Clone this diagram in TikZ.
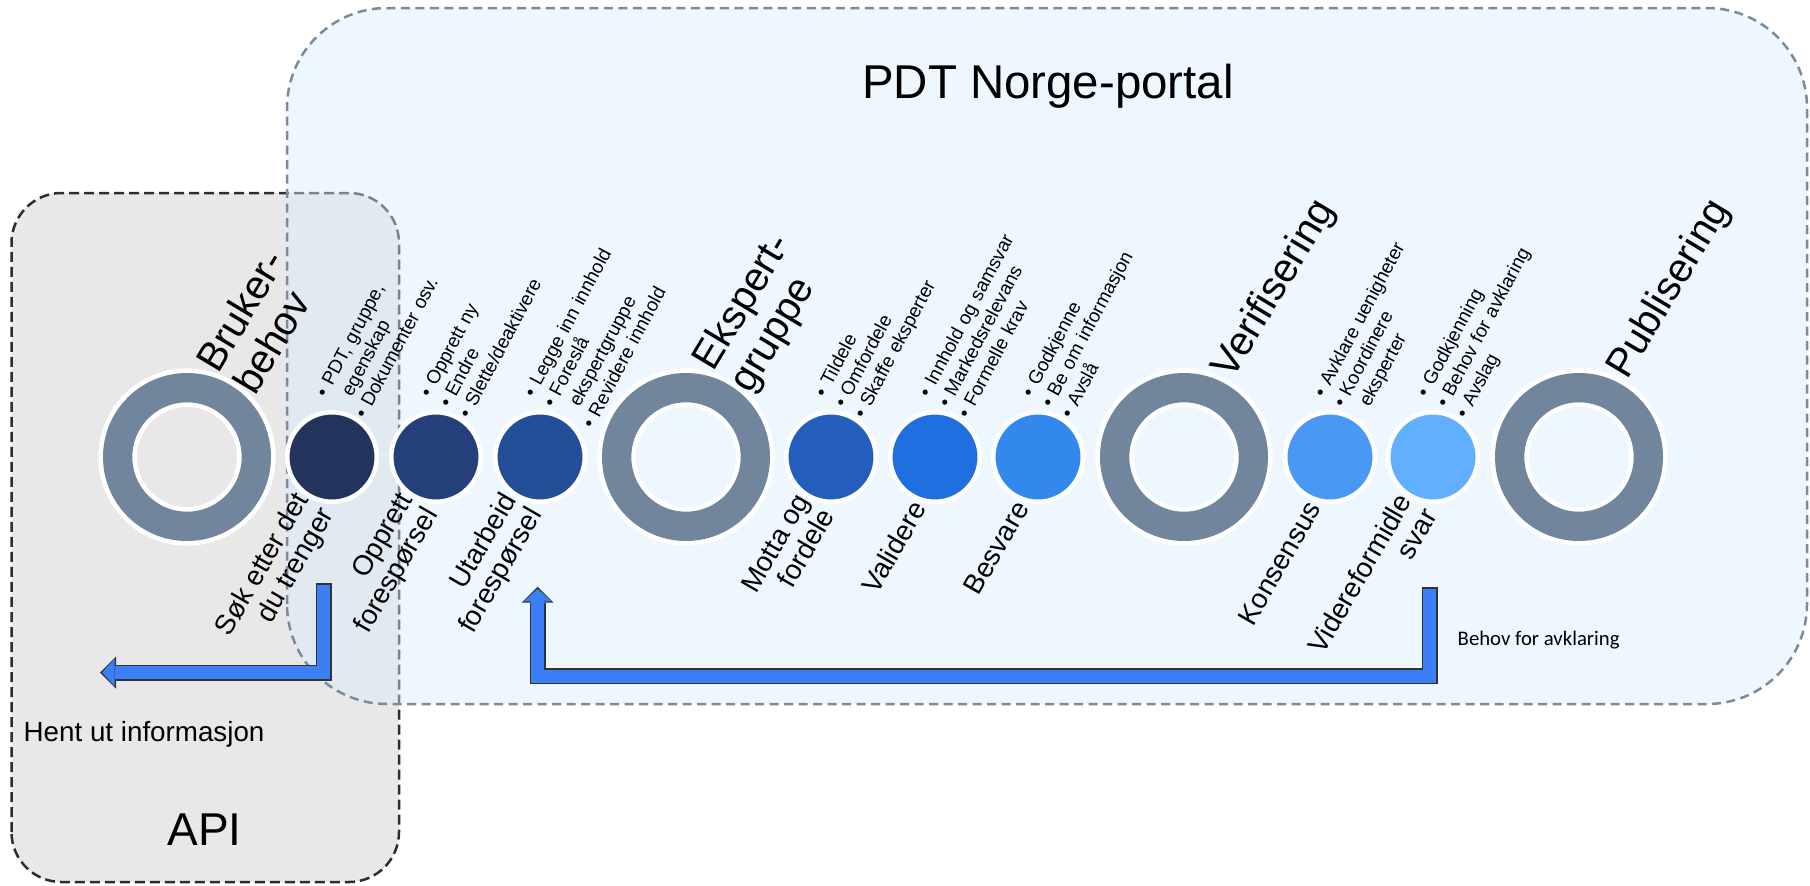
\documentclass[tikz,border=0pt]{standalone}
\usepackage{fontspec}
\usepackage{tikz}
\usepackage{xcolor}
\usetikzlibrary{arrows.meta,positioning,calc}
\setmainfont{Liberation Sans}
\newfontfamily\notefont{Carlito}
\definecolor{ringgray}{RGB}{113,133,157}
\definecolor{portalblue}{RGB}{218,236,253}
\definecolor{portaledge}{RGB}{122,138,160}
\definecolor{apigray}{RGB}{232,232,232}
\definecolor{apiedge}{RGB}{45,45,45}
\definecolor{arrowblue}{RGB}{59,127,246}
\definecolor{arrowedge}{RGB}{50,50,50}
\definecolor{stepa}{RGB}{34,51,92}
\definecolor{stepb}{RGB}{36,63,122}
\definecolor{stepc}{RGB}{35,78,152}
\definecolor{stepd}{RGB}{36,93,188}
\definecolor{stepe}{RGB}{31,111,224}
\definecolor{stepf}{RGB}{51,136,238}
\definecolor{stepg}{RGB}{74,152,245}
\definecolor{steph}{RGB}{98,174,255}

\tikzset{
    ring/.style={circle,draw=white,line width=0.047cm,double=ringgray,double distance=0.293cm,minimum size=1.387cm,inner sep=0pt},
    stepdot/.style={circle,draw=white,line width=0.045cm,minimum size=0.895cm,inner sep=0pt},
    phase/.style={rotate=59,anchor=west,align=left,inner sep=0pt,font=\fontsize{11.5}{12.2}\selectfont},
    task/.style={rotate=60,anchor=east,align=right,inner sep=0pt,font=\fontsize{7.9}{8.3}\selectfont},
    bullets/.style={rotate=62,anchor=base west,text width=2.4cm,align=left,inner sep=0pt,font=\fontsize{5.4}{6.3}\selectfont},
    blockarrow/.style={line width=0.13cm,draw=arrowblue,line join=miter,shorten >=0.021cm,
        -{Triangle[length=0.125cm,width=0.275cm,line width=0pt,fill=arrowblue]},
        preaction={draw=arrowedge,line width=0.16cm,shorten <=-0.015cm,shorten >=0cm,
            -{Triangle[length=0.16cm,width=0.32cm,line width=0pt,fill=arrowedge]}}}
}

\begin{document}
\begin{tikzpicture}
    \useasboundingbox (0,0) rectangle (18.10,8.85);

    % API box and portal box
    \draw[apiedge,line width=0.025cm,dash pattern=on 0.1cm off 0.05cm,fill=apigray,rounded corners=0.5cm] (0.115,0.03) rectangle (3.99,6.92);
    \draw[portaledge,line width=0.025cm,dash pattern=on 0.09cm off 0.055cm,fill=portalblue,fill opacity=0.45,rounded corners=1cm] (2.87,1.81) rectangle (18.07,8.77);

    \node[anchor=base,font=\fontsize{13.5}{16}\selectfont] (portal) at (10.48,7.87) {PDT Norge-portal};
    \node[anchor=base,font=\fontsize{13.1}{16}\selectfont] (api) at (2.045,0.40) {API};
    \node[anchor=base west,inner sep=0pt,font=\fontsize{7.9}{9}\selectfont] (hent) at (0.23,1.433) {Hent ut informasjon};
    \node[anchor=base west,inner sep=0pt,font=\notefont\fontsize{5.9}{7}\selectfont] (behov) at (14.57,2.40) {Behov for avklaring};

    % Phase rings
    \node[ring] (r1) at (1.87,4.28) {};
    \node[ring] (r2) at (6.86,4.28) {};
    \node[ring] (r3) at (11.84,4.28) {};
    \node[ring] (r4) at (15.79,4.28) {};

    % Steps
    \node[stepdot,fill=stepa] (s1) at (3.32,4.28) {};
    \node[stepdot,fill=stepb] (s2) at (4.36,4.28) {};
    \node[stepdot,fill=stepc] (s3) at (5.40,4.28) {};
    \node[stepdot,fill=stepd] (s4) at (8.31,4.28) {};
    \node[stepdot,fill=stepe] (s5) at (9.35,4.28) {};
    \node[stepdot,fill=stepf] (s6) at (10.38,4.28) {};
    \node[stepdot,fill=stepg] (s7) at (13.30,4.28) {};
    \node[stepdot,fill=steph] (s8) at (14.33,4.28) {};

    % Phase labels
    \node[phase] (p1) at ($(r1)+(0.37,0.78)$) {Bruker-\\behov};
    \node[phase] (p2) at ($(r2)+(0.37,0.78)$) {Ekspert-\\gruppe};
    \node[phase] (p3) at ($(r3)+(0.39,0.81)$) {Verifisering};
    \node[phase] (p4) at ($(r4)+(0.39,0.81)$) {Publisering};

    % Step labels
    \node[task] (t1) at ($(s1)+(-0.16,-0.46)$) {Søk etter det\\du trenger};
    \node[task] (t2) at ($(s2)+(-0.16,-0.46)$) {Opprett\\forespørsel};
    \node[task] (t3) at ($(s3)+(-0.16,-0.46)$) {Utarbeid\\forespørsel};
    \node[task] (t4) at ($(s4)+(-0.16,-0.46)$) {Motta og\\fordele};
    \node[task] (t5) at ($(s5)+(-0.16,-0.46)$) {Validere};
    \node[task] (t6) at ($(s6)+(-0.16,-0.46)$) {Besvare};
    \node[task] (t7) at ($(s7)+(-0.16,-0.46)$) {Konsensus};
    \node[task] (t8) at ($(s8)+(-0.16,-0.46)$) {Videreformidle\\svar};

    % Step details
    \node[bullets] (b1) at ($(s1)+(-0.06,0.58)$) {• PDT, gruppe,\\\hphantom{• }egenskap\\• Dokumenter osv.};
    \node[bullets] (b2) at ($(s2)+(-0.06,0.58)$) {• Opprett ny\\• Endre\\• Slette/deaktivere};
    \node[bullets] (b3) at ($(s3)+(-0.06,0.58)$) {• Legge inn innhold\\• Foreslå\\\hphantom{• }ekspertgruppe\\• Revidere innhold};
    \node[bullets] (b4) at ($(s4)+(-0.06,0.58)$) {• Tildele\\• Omfordele\\• Skaffe eksperter};
    \node[bullets] (b5) at ($(s5)+(-0.06,0.58)$) {• Innhold og samsvar\\• Markedsrelevans\\• Formelle krav};
    \node[bullets] (b6) at ($(s6)+(-0.06,0.58)$) {• Godkjenne\\• Be om informasjon\\• Avslå};
    \node[bullets] (b7) at ($(s7)+(-0.06,0.58)$) {• Avklare uenigheter\\• Koordinere\\\hphantom{• }eksperter};
    \node[bullets] (b8) at ($(s8)+(-0.06,0.58)$) {• Godkjenning\\• Behov for avklaring\\• Avslag};

    % Arrows
    \coordinate (sokstart) at (3.235,3.005);
    \coordinate (henttip) at (1.00,2.125);
    \coordinate (avklarstart) at (14.295,2.965);
    \coordinate (avklarbase) at (5.377,2.09);
    \coordinate (utarbtip) at (5.377,2.983);
    \draw[blockarrow] (sokstart) |- (henttip);
    \draw[blockarrow] (avklarstart) |- (avklarbase) -- (utarbtip);
\end{tikzpicture}
\end{document}
